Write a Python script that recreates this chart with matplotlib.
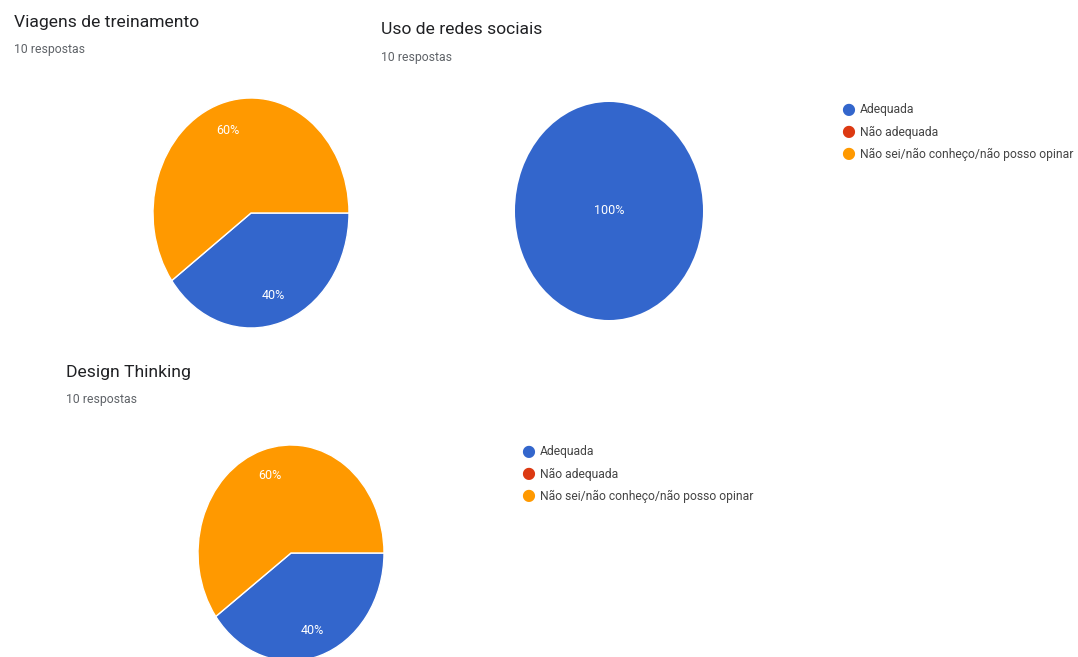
import matplotlib.pyplot as plt

# Respostas por pergunta (Google Forms), 10 respostas cada
categorias = ['Adequada', 'Não adequada', 'Não sei/não conheço/não posso opinar']
cores = ['#3366CC', '#DC3912', '#FF9900']

titulos = ['Viagens de treinamento', 'Uso de redes sociais', 'Design Thinking']
subtitulo = '10 respostas'
viagens = [4, 0, 6]
redes = [10, 0, 0]
design = [4, 0, 6]

W, H = 1078, 657
plt.rcParams['font.family'] = ['Roboto', 'DejaVu Sans']
fig = plt.figure(figsize=(W / 100, H / 100), dpi=100)


def px_axes(cx, cy, rx, ry):
    # axes em pixels (origem no canto superior esquerdo)
    return fig.add_axes([(cx - rx) / W, (H - cy - ry) / H, 2 * rx / W, 2 * ry / H])


def fmt(p):
    return '%d%%' % round(p) if p > 0 else ''


def desenha_pizza(ax, valores):
    # fatias vazias ficam de fora para não deixar traço branco
    vals = [v for v in valores if v > 0]
    cs = [c for v, c in zip(valores, cores) if v > 0]
    unica = len(vals) == 1
    ax.pie(vals, colors=cs, startangle=0, counterclock=False,
           autopct=fmt, pctdistance=0 if unica else 0.75,
           wedgeprops=dict(edgecolor='white', linewidth=0 if unica else 1),
           textprops=dict(color='white', fontsize=9))
    ax.set_aspect('auto')
    ax.set_xlim(-1, 1)
    ax.set_ylim(-1, 1)
    ax.axis('off')


def titulo(x, y, texto):
    fig.text(x / W, 1 - y / H, texto, fontsize=12.6, color='#202124', va='center')
    fig.text(x / W, 1 - (y + 27) / H, subtitulo, fontsize=8.8, color='#5f6368', va='center')


def legenda(x, y):
    for i, (nome, c) in enumerate(zip(categorias, cores)):
        yy = y + i * 22
        fig.text(x / W, 1 - yy / H, '\u25CF', color=c, fontsize=11.5, va='center', ha='center')
        fig.text((x + 12) / W, 1 - yy / H, nome, color='#444444', fontsize=8.7, va='center')


desenha_pizza(px_axes(251, 213, 98, 115), viagens)
desenha_pizza(px_axes(609, 211, 94, 109), redes)
desenha_pizza(px_axes(291, 553, 93, 108), design)

titulo(14, 23, titulos[0])
titulo(381, 30, titulos[1])
titulo(66, 373, titulos[2])

legenda(848, 110)
legenda(528, 452)

fig.savefig('out.png', dpi=100)
